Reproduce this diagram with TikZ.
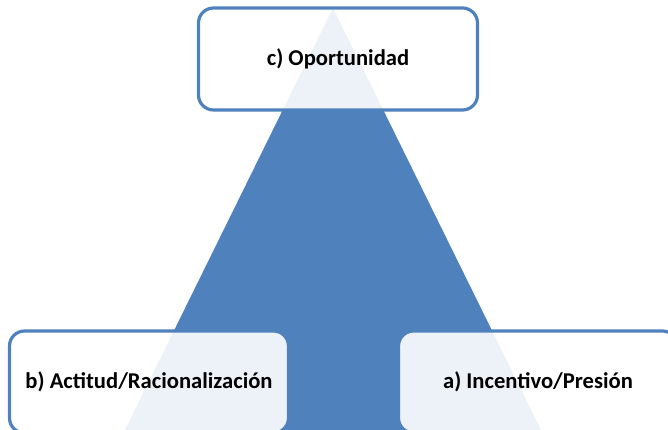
\documentclass[tikz,border=0pt]{standalone}
\usepackage{fontspec}
\setmainfont{Carlito}
\usepackage{tikz}
\usetikzlibrary{positioning,%
  shapes,%
  calc
}
\definecolor{triblue}{HTML}{4F81BD}
\tikzset{
  factor/.style={draw=triblue, line width=3.2pt, rounded corners=15pt,
    fill=white, fill opacity=.9, text opacity=1,
    minimum width=279pt, minimum height=102pt,
    font=\fontsize{22.6}{26}\selectfont\bfseries}
}

\begin{document}
\begin{tikzpicture}[x=1pt,y=1pt]
            \useasboundingbox (0,0) rectangle (668,430);
            \clip (0,0) rectangle (668,430);

            % triangle
            \fill [triblue] (333,422) -- (124,-2) -- (542,-2) -- cycle;

            % the three factors
            \node [factor] (opp) at (338,371) {c) Oportunidad};
            \node [factor] (act) at (149,48) {b) Actitud/Racionalización};
            \node [factor] (inc) at (538,48) {a) Incentivo/Presión};
        \end{tikzpicture}
\end{document}
